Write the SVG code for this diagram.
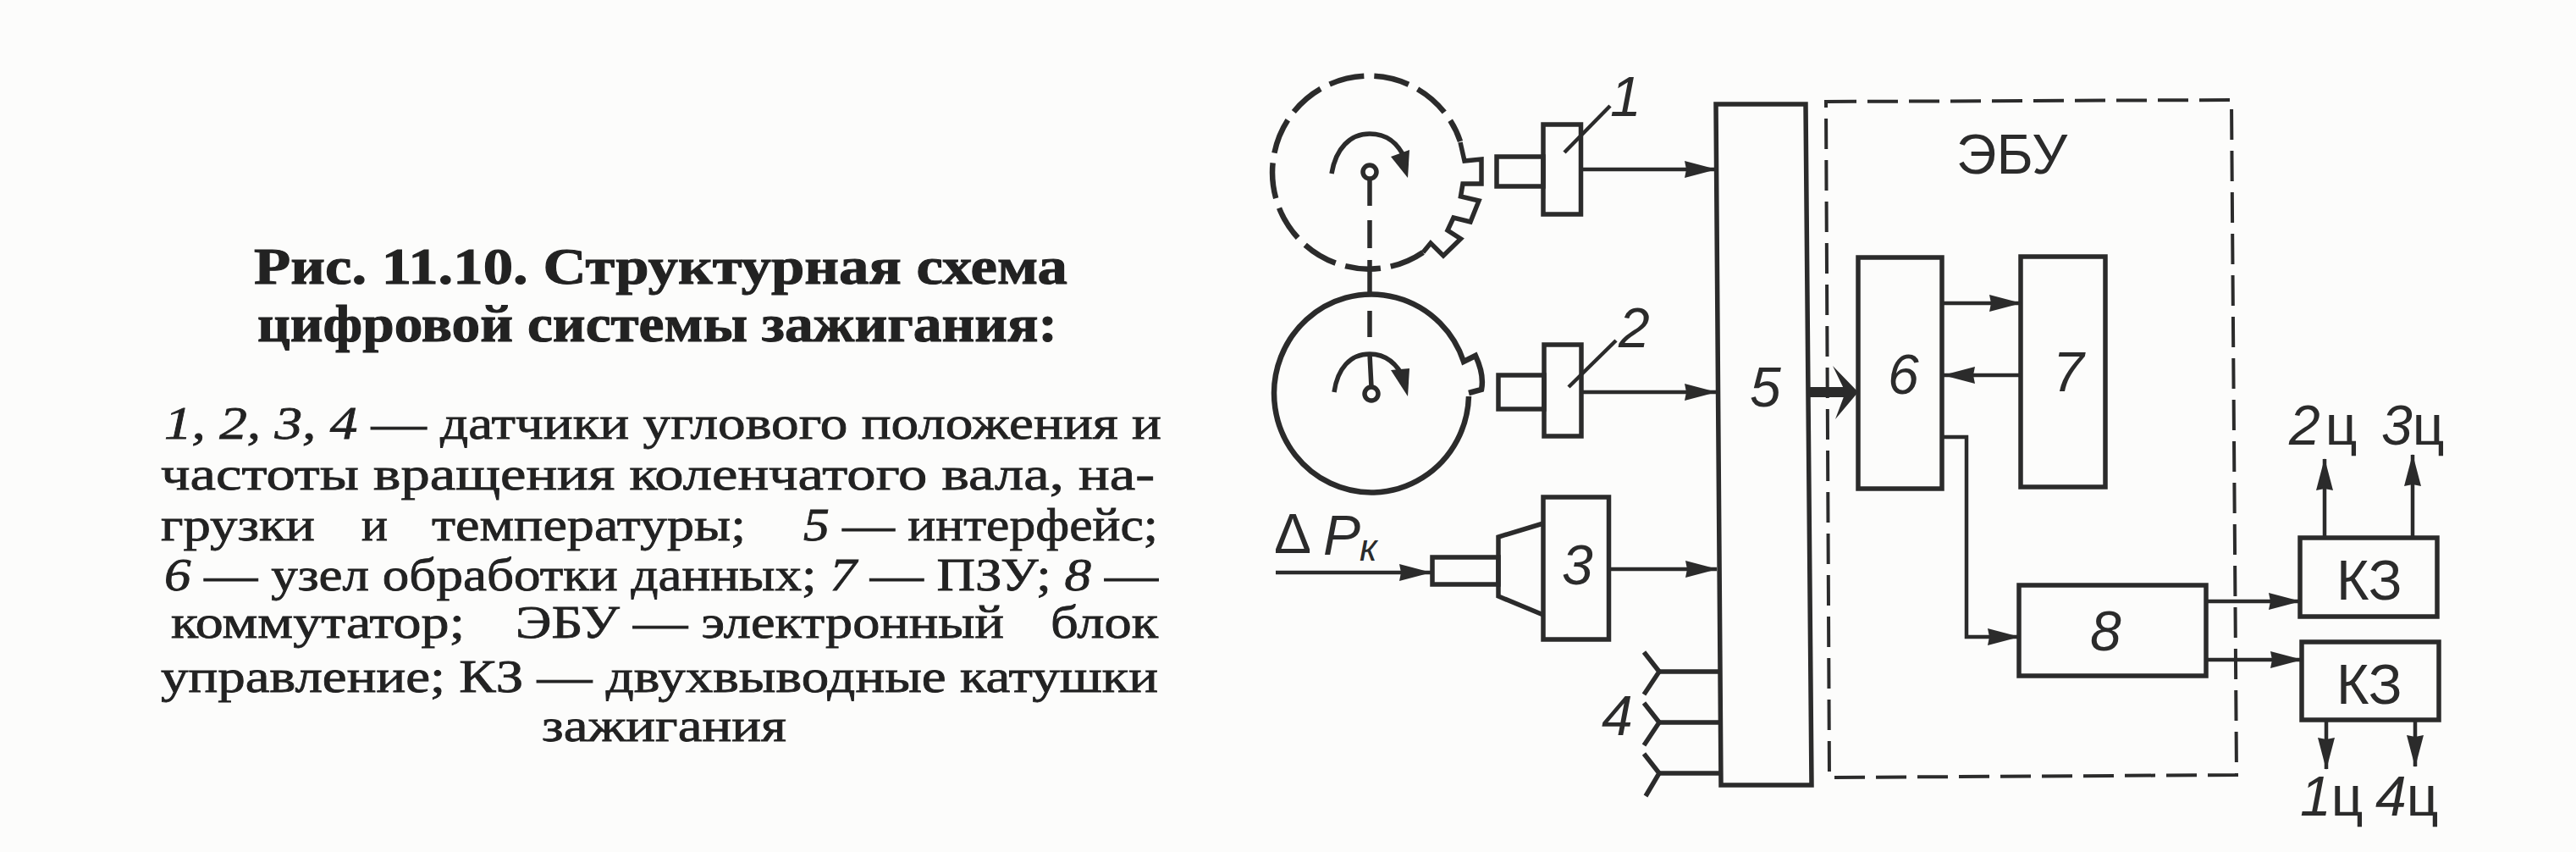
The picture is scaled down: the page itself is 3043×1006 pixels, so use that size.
<svg xmlns="http://www.w3.org/2000/svg" width="3043" height="1006" viewBox="0 0 3043 1006">
<style>
.s{fill:none;stroke:#2b2b2b;stroke-width:5.500;stroke-linejoin:miter}
.f{fill:#2b2b2b}
.c{fill:none;stroke:#2b2b2b;stroke-width:4.500}
.d{fill:none;stroke:#2b2b2b;stroke-width:4;stroke-dasharray:36 13}
.n{font-family:"Liberation Sans",sans-serif;font-style:italic;font-size:66px;fill:#2b2b2b}
.u{font-family:"Liberation Sans",sans-serif;font-size:66px;fill:#2b2b2b}
.t{font-family:"Liberation Serif",serif;font-size:54px;fill:#222;stroke:#222;stroke-width:.8}
.b{font-family:"Liberation Serif",serif;font-size:61px;font-weight:bold;fill:#222;stroke:#222;stroke-width:1}
.i{font-style:italic}
</style>
<defs>
<marker id="a" markerUnits="userSpaceOnUse" markerWidth="40" markerHeight="24" refX="37" refY="12" orient="auto"><path d="M0 2L38 12L0 22L2 12Z" fill="#2b2b2b"/></marker>
</defs>
<rect width="3043" height="1006" fill="#fcfcfb"/>
<g id="caption">
<text class="b" x="300" y="335" textLength="961" lengthAdjust="spacingAndGlyphs">Рис. 11.10. Структурная схема</text>
<text class="b" x="304" y="403" textLength="945" lengthAdjust="spacingAndGlyphs">цифровой системы зажигания:</text>
<text class="t" x="194" y="518" textLength="1178" lengthAdjust="spacingAndGlyphs"><tspan class="i">1, 2, 3, 4</tspan> — датчики углового положения и</text>
<text class="t" x="190" y="578" textLength="1174" lengthAdjust="spacingAndGlyphs">частоты вращения коленчатого вала, на-</text>
<text class="t" x="190" y="638" textLength="182" lengthAdjust="spacingAndGlyphs">грузки</text>
<text class="t" x="427" y="638" textLength="31" lengthAdjust="spacingAndGlyphs">и</text>
<text class="t" x="510" y="638" textLength="371" lengthAdjust="spacingAndGlyphs">температуры;</text>
<text class="t" x="949" y="638" textLength="419" lengthAdjust="spacingAndGlyphs"><tspan class="i">5</tspan> — интерфейс;</text>
<text class="t" x="194" y="697" textLength="1174" lengthAdjust="spacingAndGlyphs"><tspan class="i">6</tspan> — узел обработки данных; <tspan class="i">7</tspan> — ПЗУ; <tspan class="i">8</tspan> —</text>
<text class="t" x="202" y="753" textLength="347" lengthAdjust="spacingAndGlyphs">коммутатор;</text>
<text class="t" x="609" y="753" textLength="577" lengthAdjust="spacingAndGlyphs">ЭБУ — электронный</text>
<text class="t" x="1241" y="753" textLength="127" lengthAdjust="spacingAndGlyphs">блок</text>
<text class="t" x="190" y="817" textLength="1178" lengthAdjust="spacingAndGlyphs">управление; КЗ — двухвыводные катушки</text>
<text class="t" x="640" y="875" textLength="289" lengthAdjust="spacingAndGlyphs">зажигания</text>
</g>
<g id="wheel-1">
<path d="M1681 298A114 114 0 1 1 1725 167" fill="none" stroke="#2b2b2b" stroke-width="6.500" stroke-dasharray="42 12"/>
<path class="s" d="M1725 168L1730 190L1750 188L1750 217L1728 217L1725.500 232L1747 237L1737 262L1717 257L1710 272L1725.500 282L1705 302L1690 287L1681 298"/>
<circle class="s" cx="1618" cy="203" r="8"/>
<path class="s" d="M1573 205C1578 175 1595 158 1618 158C1640 158 1652 170 1660 188"/>
<polygon class="f" points="1663,210 1643,185 1665,177"/>
<path class="s" d="M1618 211V243M1618 260V293"/>
</g>
<g id="wheel-2">
<path d="M1735 468A115 117 0 1 1 1729 427L1743 420C1750 435 1752 450 1750 460L1735 464" fill="none" stroke="#2b2b2b" stroke-width="6.500"/>
<circle class="s" cx="1620" cy="465" r="8"/>
<path class="s" d="M1576 463C1580 435 1595 418 1618 418C1640 418 1652 432 1660 450"/>
<polygon class="f" points="1663,468 1643,437 1665,435"/>
<path class="s" d="M1618 418L1620 457M1618 367V398"/>
</g>
<g id="shaft">
<path class="s" d="M1618 307V348"/>
</g>
<g id="sensor-1">
<rect class="s" x="1823" y="147" width="44.500" height="106"/>
<rect class="s" x="1768" y="185" width="55" height="35"/>
<path class="c" d="M1848 180L1902 125"/>
<text class="n" x="1902" y="137">1</text>
</g>
<g id="sensor-2">
<rect class="s" x="1824" y="407" width="44" height="108"/>
<rect class="s" x="1770" y="443" width="54" height="40"/>
<path class="c" d="M1853 457L1909 402"/>
<text class="n" x="1912" y="410">2</text>
</g>
<g id="sensor-3">
<rect class="s" x="1823" y="587" width="77.500" height="168"/>
<path class="s" d="M1823 618L1770 634V704L1823 726"/>
<rect class="s" x="1692" y="658" width="78" height="32"/>
<text class="n" x="1845" y="690">3</text>
<text class="u" x="1505" y="653">Δ</text>
<text class="n" x="1563" y="655">P</text>
<text class="n" x="1606" y="662" style="font-size:44px">к</text>
</g>
<g id="sensor-4">
<path class="s" d="M1942 770L1960 793L1942 820M1942 830L1960 853L1942 880M1942 890L1960 913L1944 940"/>
<text class="n" x="1892" y="868">4</text>
</g>
<g id="block-5">
<path class="s" d="M2027 123H2133L2140 927H2033Z"/>
<text class="n" x="2067" y="480">5</text>
</g>
<g id="ecu">
<path class="d" d="M2157 120L2636 118L2642 915L2161 918Z"/>
<text class="u" x="2311" y="205">ЭБУ</text>
</g>
<g id="block-6">
<rect class="s" x="2195" y="304" width="99" height="273"/>
<text class="n" x="2230" y="465">6</text>
</g>
<g id="block-7">
<rect class="s" x="2387" y="303" width="100" height="272"/>
<text class="n" x="2425" y="462">7</text>
</g>
<g id="block-8">
<rect class="s" x="2385" y="691" width="221" height="107"/>
<text class="n" x="2469" y="768">8</text>
</g>
<g id="coil-top">
<rect class="s" x="2717" y="635" width="162" height="93"/>
<text class="u" x="2760" y="708">КЗ</text>
</g>
<g id="coil-bottom">
<rect class="s" x="2719" y="758" width="162" height="92"/>
<text class="u" x="2760" y="831">КЗ</text>
</g>
<g id="labels">
<text class="u" x="2704" y="525"><tspan class="n">2</tspan><tspan dx="6">ц</tspan></text>
<text class="u" x="2813" y="525"><tspan class="n">3</tspan>ц</text>
<text class="u" x="2717" y="963"><tspan class="n">1</tspan>ц</text>
<text class="u" x="2806" y="963"><tspan class="n">4</tspan>ц</text>
</g>
<g id="connectors">
<path class="c" marker-end="url(#a)" d="M1868 200H2027"/>
<path class="c" marker-end="url(#a)" d="M1870 463H2027"/>
<path class="c" marker-end="url(#a)" d="M1507 676H1690"/>
<path class="c" marker-end="url(#a)" d="M1902 672H2028"/>
<path class="s" d="M1960 793H2031M1960 853H2033M1960 913H2033"/>
<path fill="none" stroke="#2b2b2b" stroke-width="12" d="M2136 463H2180"/>
<path class="f" d="M2165 432L2195 463L2168 495L2180 463Z"/>
<path class="c" marker-end="url(#a)" d="M2294 358H2387"/>
<path class="c" marker-end="url(#a)" d="M2387 443H2296"/>
<path class="c" marker-end="url(#a)" d="M2294 516H2323V752H2385"/>
<path class="c" marker-end="url(#a)" d="M2606 710H2717"/>
<path class="c" marker-end="url(#a)" d="M2606 779H2719"/>
<path class="c" marker-end="url(#a)" d="M2746 635V542"/>
<path class="c" marker-end="url(#a)" d="M2850 635V537"/>
<path class="c" marker-end="url(#a)" d="M2748 850V908"/>
<path class="c" marker-end="url(#a)" d="M2853 850V905"/>
</g>
</svg>
